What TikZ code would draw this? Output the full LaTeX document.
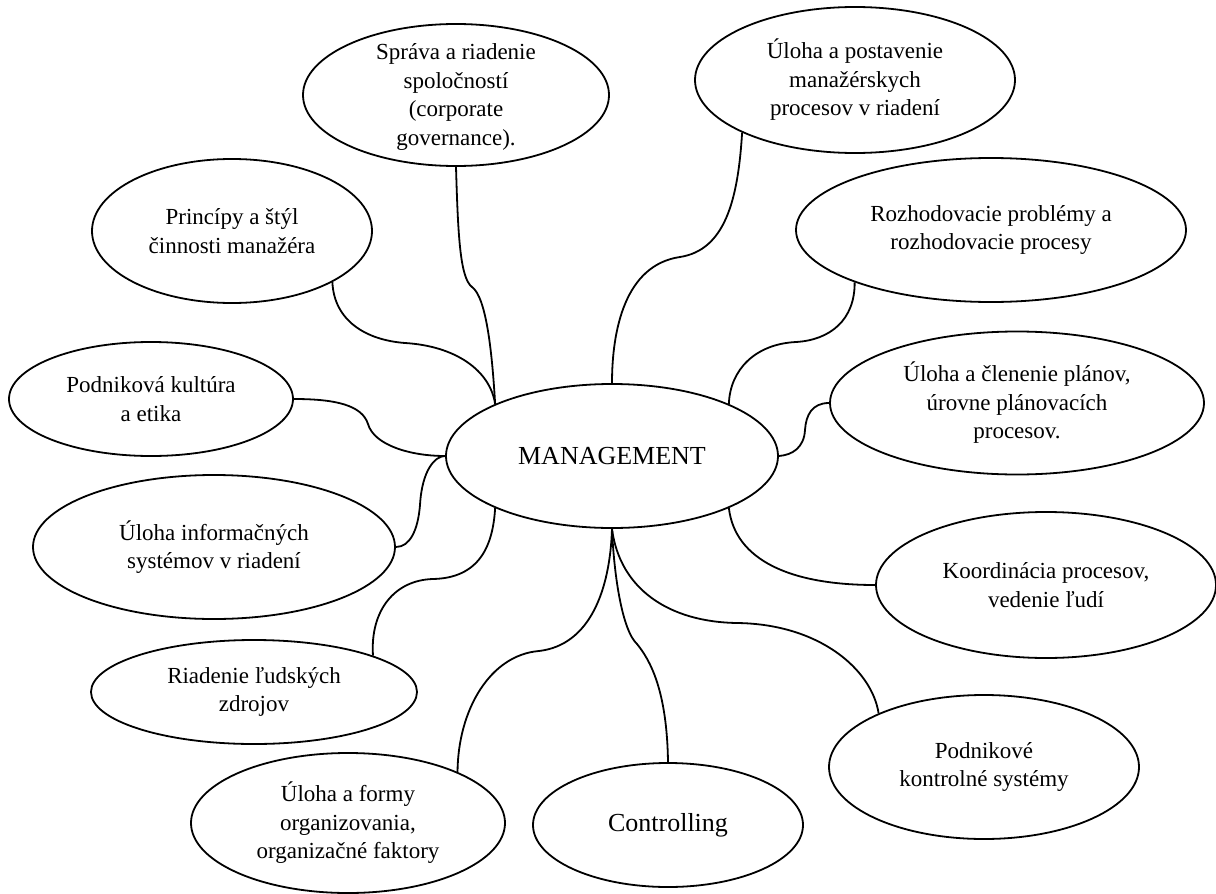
\documentclass[tikz,border=0pt]{standalone}
\usepackage{fontspec}
\setmainfont{Liberation Serif}
\usetikzlibrary{shapes.geometric}
\begin{document}
\begin{tikzpicture}[x=1pt,y=-1pt,
  topic/.style={draw, ellipse, line width=1.8pt, inner sep=-15pt, align=center,
                font=\fontsize{23}{28.5}\selectfont},
  bigtopic/.style={topic, font=\fontsize{26}{30}\selectfont},
  link/.style={line width=1.8pt},
]
\useasboundingbox (0,0) rectangle (1216,894);

% central topic
\node[bigtopic, minimum width=332pt, minimum height=144pt] (M) at (612,456) {MANAGEMENT};

% surrounding topics
\node[topic, minimum width=306pt, minimum height=142pt] (S)  at (456,95)  {\strut Správa a riadenie\\spoločností\\(corporate\\governance).};
\node[topic, minimum width=320pt, minimum height=146pt] (UP) at (855,80)  {Úloha a postavenie\\manažérskych\\procesov v riadení};
\node[topic, minimum width=280pt, minimum height=144pt] (P)  at (232,231) {Princípy a štýl\\činnosti manažéra};
\node[topic, minimum width=284pt, minimum height=114pt] (K)  at (151,399) {Podniková kultúra\\a etika};
\node[topic, minimum width=362pt, minimum height=144pt] (IS) at (214,547) {Úloha informačných\\systémov v riadení};
\node[topic, minimum width=326pt, minimum height=104pt] (R)  at (254,692) {Riadenie ľudských\\zdrojov};
\node[topic, minimum width=314pt, minimum height=140pt] (F)  at (348,823) {Úloha a formy\\organizovania,\\organizačné faktory};
\node[bigtopic, minimum width=270pt, minimum height=124pt] (C) at (668,825) {Controlling};
\node[topic, minimum width=310pt, minimum height=144pt] (PK) at (984,767) {Podnikové\\kontrolné systémy};
\node[topic, minimum width=340pt, minimum height=146pt] (KO) at (1046,585) {Koordinácia procesov,\\vedenie ľudí};
\node[topic, minimum width=374pt, minimum height=143pt] (CL) at (1017,403) {Úloha a členenie plánov,\\úrovne plánovacích\\procesov.};
\node[topic, minimum width=390pt, minimum height=144pt] (RZ) at (991,230) {Rozhodovacie problémy a\\rozhodovacie procesy};

% curved links to the central topic
\draw[link] (S.south) .. controls (458,235) and (460,278) .. (472,287)
                      .. controls (486,297) and (492,350) .. (M.156);
\draw[link] (P.333) .. controls (334,320) and (365,340) .. (405,343)
                    .. controls (455,346) and (490,370) .. (M.156);
\draw[link] (K.east) .. controls (335,399) and (362,405) .. (368,424)
                     .. controls (374,445) and (410,456) .. (M.west);
\draw[link] (IS.east) .. controls (410,547) and (418,530) .. (420,505)
                      .. controls (422,470) and (435,456) .. (M.west);
\draw[link] (R.17) .. controls (370,610) and (395,580) .. (433,579)
                   .. controls (480,578) and (493,545) .. (M.204);
\draw[link] (F.25) .. controls (458,710) and (490,655) .. (539,651)
                   .. controls (590,645) and (610,590) .. (M.south);
\draw[link] (M.south) .. controls (614,575) and (622,630) .. (637,644)
                      .. controls (650,660) and (667,690) .. (C.north);
\draw[link] (M.south) .. controls (620,590) and (670,622) .. (737,623)
                      .. controls (820,624) and (872,670) .. (PK.153);
\draw[link] (M.336) .. controls (735,560) and (790,585) .. (KO.west);
\draw[link] (CL.west) .. controls (812,403) and (806,415) .. (805,430)
                      .. controls (804,448) and (792,455) .. (M.east);
\draw[link] (RZ.201) .. controls (855,320) and (830,340) .. (796,342)
                     .. controls (755,344) and (730,370) .. (M.24);
\draw[link] (UP.205) .. controls (738,200) and (725,250) .. (680,257)
                     .. controls (625,265) and (612,330) .. (M.north);
\end{tikzpicture}
\end{document}
